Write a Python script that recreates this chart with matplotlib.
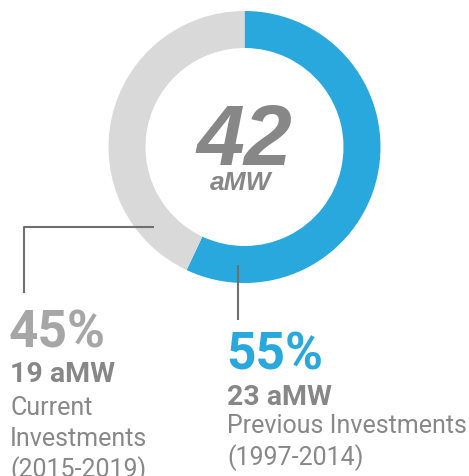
import matplotlib.pyplot as plt

W, H = 469, 476

# data
shares = [55, 45]            # labelled percentages
ring = [57, 43]              # arc sizes as drawn in the ring
amw = [23, 19]
total_amw = 42
names = ["Previous Investments", "Current\nInvestments"]
periods = ["(1997-2014)", "(2015-2019)"]
colors = ["#29a8de", "#d9d9d9"]

plt.rcParams["font.family"] = ["Roboto", "DejaVu Sans"]

fig = plt.figure(figsize=(W / 100, H / 100), dpi=100)
ax = fig.add_axes([0, 0, 1, 1])


def Y(y):
    return H - y


cx, cy, r = 244.5, Y(147), 136
ax.pie(ring, colors=colors, startangle=90, counterclock=False,
       center=(cx, cy), radius=r, wedgeprops=dict(width=37, linewidth=0))
ax.set_xlim(0, W)
ax.set_ylim(0, H)
ax.set_aspect("equal")
ax.axis("off")

# centre total
ax.text(cx, Y(165), str(total_amw), ha="center", va="baseline", fontsize=62,
        fontweight="bold", fontstyle="italic", color="#878787",
        family="Liberation Sans")
ax.text(cx - 4, Y(190), "aMW", ha="center", va="baseline", fontsize=19,
        fontweight="bold", fontstyle="italic", color="#878787",
        family="Liberation Sans")

# leader lines
line_kw = dict(color="#6f6f6f", lw=1.5, solid_capstyle="butt")
ax.plot([154, 24, 24], [Y(227), Y(227), Y(293)], **line_kw)
ax.plot([238, 238], [Y(265), Y(320)], **line_kw)

body = dict(fontsize=18, color="#888888", va="baseline")

# left label (current)
lx = 9
ax.text(lx, Y(348), f"{shares[1]}%", fontsize=37, fontweight="bold",
        color="#a6a6a6", va="baseline")
ax.text(lx + 1, Y(382), f"{amw[1]} aMW", fontsize=20.5, fontweight="bold",
        color="#878787", va="baseline")
for i, line in enumerate(names[1].split("\n") + [periods[1]]):
    ax.text(lx + 1, Y(415 + 31 * i), line, **body)

# right label (previous)
rx = 226
ax.text(rx, Y(370), f"{shares[0]}%", fontsize=37, fontweight="bold",
        color=colors[0], va="baseline")
ax.text(rx + 1, Y(405), f"{amw[0]} aMW", fontsize=20.5, fontweight="bold",
        color="#878787", va="baseline")
ax.text(rx + 1, Y(433), names[0], **body)
ax.text(rx + 1, Y(465), periods[0], **body)

fig.savefig("out.png", dpi=100)
